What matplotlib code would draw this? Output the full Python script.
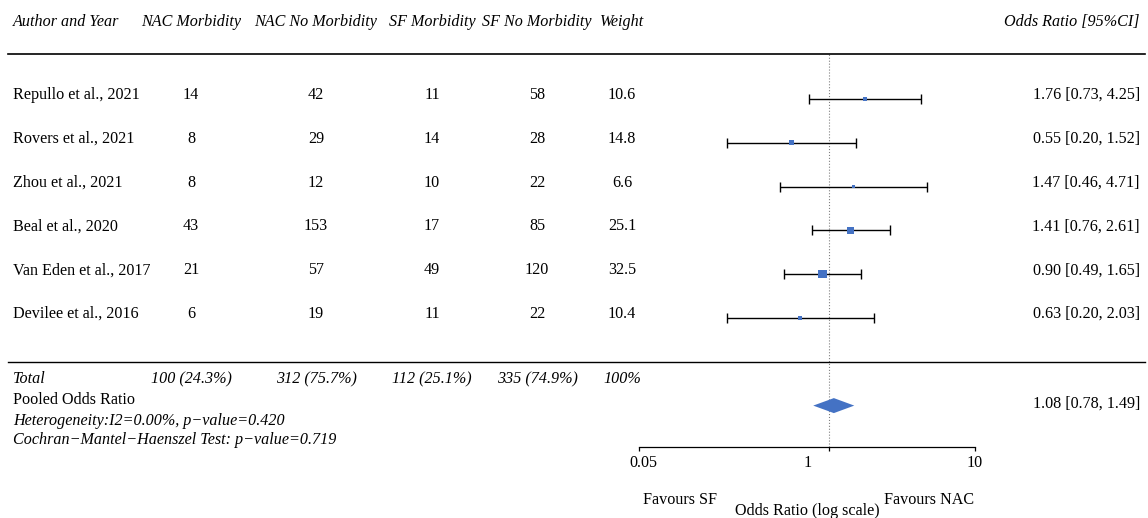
import numpy as np
import matplotlib
matplotlib.use("Agg")
import matplotlib.pyplot as plt
from matplotlib.lines import Line2D
from matplotlib.transforms import blended_transform_factory, ScaledTranslation

plt.rcParams['font.family'] = ['Liberation Serif', 'DejaVu Serif']
plt.rcParams['font.size'] = 11.6

authors = ["Repullo et al., 2021", "Rovers et al., 2021", "Zhou et al., 2021",
           "Beal et al., 2020", "Van Eden et al., 2017", "Devilee et al., 2016"]
nac_morb = [14, 8, 8, 43, 21, 6]
nac_no = [42, 29, 12, 153, 57, 19]
sf_morb = [11, 14, 10, 17, 49, 11]
sf_no = [58, 28, 22, 85, 120, 22]
weight = [10.6, 14.8, 6.6, 25.1, 32.5, 10.4]
odds = [1.76, 0.55, 1.47, 1.41, 0.90, 0.63]
ci_lo = [0.73, 0.20, 0.46, 0.76, 0.49, 0.20]
ci_hi = [4.25, 1.52, 4.71, 2.61, 1.65, 2.03]
pooled = (1.08, 0.78, 1.49)
ticks = [0.05, 1, 10]
tick_labels = ["0.05", "1", "10"]

W, H = 1148, 518
fig = plt.figure(figsize=(W / 100, H / 100), dpi=100)
# forest axes: 0.05 at x=639px, 10 at x=975px, top line 54px, axis line 447px
ax = fig.add_axes([639 / W, 1 - 447 / H, (975 - 639) / W, (447 - 54) / H])
ax.set_xscale('log')
ax.set_xlim(0.05, 10)
row_h = 43.8
ax.set_ylim((447 - 99) / row_h, (54 - 99) / row_h)

blue = '#4472C4'
y = np.arange(len(authors))
ax.errorbar(odds, y, xerr=[np.array(odds) - np.array(ci_lo), np.array(ci_hi) - np.array(odds)],
            fmt='none', ecolor='black', elinewidth=1, capsize=3.8, capthick=1, zorder=2)
side = 2.0 + 0.2 * np.array(weight)  # px
ax.scatter(odds, y, marker='s', s=(side * 0.72) ** 2, color=blue, linewidths=0, zorder=3)

# pooled diamond
est, lo, hi = pooled
yp = 7.0
hh = 7.5 / row_h
ax.fill([lo, est, hi, est], [yp, yp - hh, yp, yp + hh], color=blue, lw=0, zorder=3)

ax.axvline(1, ls=':', color='grey', lw=0.8, zorder=1)

for s in ['top', 'left', 'right']:
    ax.spines[s].set_visible(False)
ax.spines['bottom'].set_linewidth(0.9)
ax.set_yticks([])
ax.set_xticks(ticks)
ax.set_xticklabels(tick_labels)
ax.minorticks_off()
ax.tick_params(axis='x', direction='out', length=3, width=0.9, pad=3, labelsize=11.6)
for lab in ax.get_xticklabels():
    if lab.get_text() == "1":
        lab.set_transform(lab.get_transform() + ScaledTranslation(-0.21, 0, fig.dpi_scale_trans))
    if lab.get_text() == "0.05":
        lab.set_transform(lab.get_transform() + ScaledTranslation(0.04, 0, fig.dpi_scale_trans))

ax.set_xlabel("Odds Ratio (log scale)", fontsize=11.6, va='center')
ax.xaxis.set_label_coords(0.5, (447 - 511) / (447 - 54))
ax.text((680 - 639) / 336, (447 - 500) / 393, "Favours SF", transform=ax.transAxes,
        ha='center', va='center')
ax.text((929 - 639) / 336, (447 - 500) / 393, "Favours NAC", transform=ax.transAxes,
        ha='center', va='center')

tr = blended_transform_factory(fig.transFigure, ax.transData)
cols = [191 / W, 316 / W, 432 / W, 537 / W, 622 / W]
x_auth = 13 / W
x_right = 1140 / W

# header
yh = (22 - 99) / row_h
ax.text(x_auth, yh, "Author and Year", transform=tr, ha='left', va='center', style='italic')
for cx, h in zip(cols, ["NAC Morbidity", "NAC No Morbidity", "SF Morbidity", "SF No Morbidity", "Weight"]):
    ax.text(cx, yh, h, transform=tr, ha='center', va='center', style='italic')
ax.text(x_right, yh, "Odds Ratio [95%CI]", transform=tr, ha='right', va='center', style='italic')

# rows
dy = -4 / row_h
for i in range(len(authors)):
    yi = i + dy
    ax.text(x_auth, yi, authors[i], transform=tr, ha='left', va='center')
    vals = [str(nac_morb[i]), str(nac_no[i]), str(sf_morb[i]), str(sf_no[i]), f"{weight[i]:.1f}"]
    for cx, v in zip(cols, vals):
        ax.text(cx, yi, v, transform=tr, ha='center', va='center')
    ax.text(x_right, yi, f"{odds[i]:.2f} [{ci_lo[i]:.2f}, {ci_hi[i]:.2f}]", transform=tr,
            ha='right', va='center')

# totals
t1, t2, t3, t4 = sum(nac_morb), sum(nac_no), sum(sf_morb), sum(sf_no)
yt = (379 - 99) / row_h
tot = [f"{t1} ({100 * t1 / (t1 + t2):.1f}%)", f"{t2} ({100 * t2 / (t1 + t2):.1f}%)",
       f"{t3} ({100 * t3 / (t3 + t4):.1f}%)", f"{t4} ({100 * t4 / (t3 + t4):.1f}%)", "100%"]
ax.text(x_auth, yt, "Total", transform=tr, ha='left', va='center', style='italic')
for cx, v in zip(cols, tot):
    ax.text(cx, yt, v, transform=tr, ha='center', va='center', style='italic')

ax.text(x_auth, (400 - 99) / row_h, "Pooled Odds Ratio", transform=tr, ha='left', va='center')
ax.text(x_right, yp - 2 / row_h, f"{est:.2f} [{lo:.2f}, {hi:.2f}]", transform=tr, ha='right', va='center')
ax.text(x_auth, (421 - 99) / row_h, "Heterogeneity:I2=0.00%, p\u2212value=0.420", transform=tr,
        ha='left', va='center', style='italic')
ax.text(x_auth, (440 - 99) / row_h, "Cochran\u2212Mantel\u2212Haenszel Test: p\u2212value=0.719",
        transform=tr, ha='left', va='center', style='italic')

# horizontal rules
for yl, lw in [((54 - 99) / row_h, 1.2), ((362 - 99) / row_h, 1.0)]:
    ax.add_artist(Line2D([8 / W, 1145 / W], [yl, yl], transform=tr, color='black', lw=lw, clip_on=False))

fig.savefig("out.png", dpi=100)
